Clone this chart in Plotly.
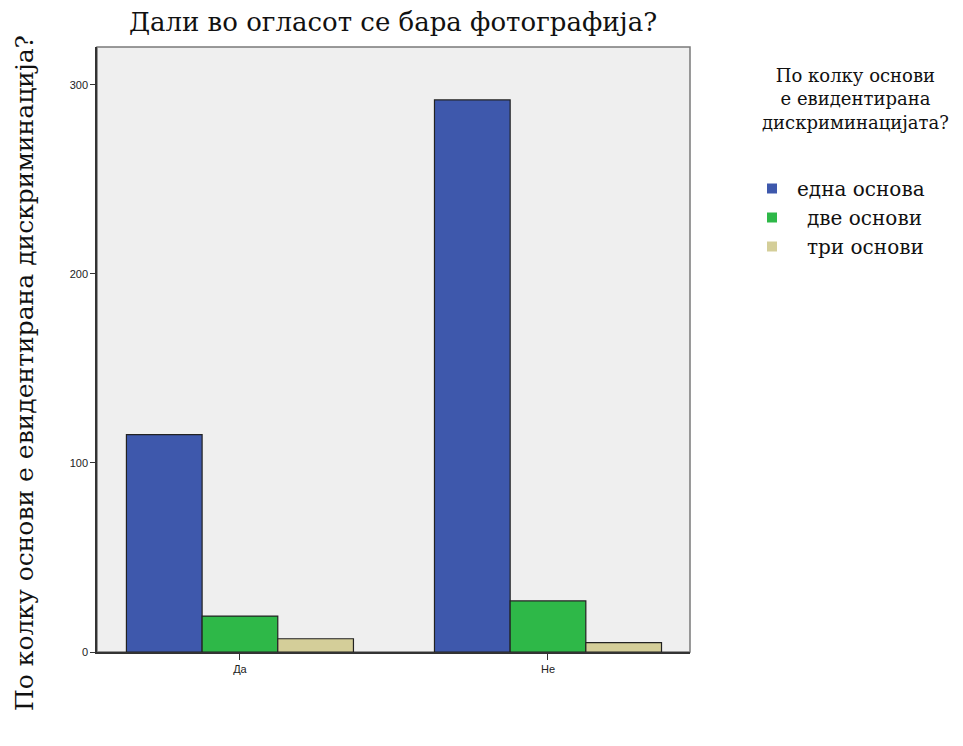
import plotly.graph_objects as go

categories = ['Да', 'Не']
series_names = ['една основа', 'две основи', 'три основи']
values_edna = [115, 292]
values_dve = [19, 27]
values_tri = [7, 5]
colors = ['#3E58AC', '#2EB848', '#D4CE99']
# the reference legend right-aligns its labels; pad the shorter ones
name_pads = ['\u2005', '\u2005\u2002', '\u2005\u2002']
legend_title = 'По колку основи<br>е евидентирана<br>дискриминацијата?'

serif = 'DejaVu Serif, serif'
sans = 'Liberation Sans, Arial, sans-serif'

fig = go.Figure()

for name, pad, vals, col in zip(series_names, name_pads,
                                [values_edna, values_dve, values_tri], colors):
    fig.add_trace(go.Bar(
        x=categories, y=vals, name=name,
        marker=dict(color=col, line=dict(color='#222222', width=1.2)),
        showlegend=False, legendgroup=name
    ))
    # legend swatch (square, no outline)
    fig.add_trace(go.Scatter(
        x=[None], y=[None], mode='markers', name=pad + name,
        marker=dict(symbol='square', size=10, color=col),
        legendgroup=name, showlegend=True
    ))

# light frame on top/right like the original
fig.add_shape(type='rect', xref='paper', yref='paper', x0=0, y0=0, x1=1, y1=1,
              line=dict(color='#7a7a7a', width=1.5), layer='below')

# page body has an 8px margin, so the figure is shrunk by 8px
fig.update_layout(
    width=955, height=738,
    margin=dict(l=89, r=273, t=39, b=94),
    paper_bgcolor='white',
    plot_bgcolor='#EFEFEF',
    barmode='group',
    bargap=0.263,
    bargroupgap=0,
    title=dict(
        text='Дали во огласот се бара фотографија?',
        x=(393 - 8) / 955, xanchor='center',
        y=1 - (22 - 8) / 738, yanchor='middle',
        font=dict(family=serif, size=26, color='#111111')
    ),
    xaxis=dict(
        range=[-0.464, 1.461],
        showgrid=False, zeroline=False,
        showline=True, linecolor='#333333', linewidth=1.5,
        ticks='outside', ticklen=6, tickcolor='#333333',
        tickfont=dict(family=sans, size=11, color='#222222')
    ),
    yaxis=dict(
        range=[0, 320],
        tickvals=[0, 100, 200, 300],
        showgrid=False, zeroline=False,
        showline=True, linecolor='#333333', linewidth=1.5,
        ticks='outside', ticklen=5, tickcolor='#333333',
        tickfont=dict(family=sans, size=11, color='#222222')
    ),
    legend=dict(
        x=(752 - 97) / 593, xanchor='left',
        y=(652 - 169) / 605, yanchor='top',
        font=dict(family=serif, size=20, color='#111111'),
        tracegroupgap=0,
        bgcolor='rgba(0,0,0,0)'
    ),
    annotations=[
        dict(
            text='По колку основи е евидентирана дискриминација?',
            xref='paper', yref='paper',
            x=(25 - 97) / 593, xanchor='center',
            y=(652 - 373) / 605, yanchor='middle',
            textangle=-90, showarrow=False,
            font=dict(family=serif, size=25, color='#111111')
        ),
        dict(
            text=legend_title, xref='paper', yref='paper',
            x=(855 - 97) / 593, xanchor='center',
            y=(652 - 99) / 605, yanchor='middle',
            align='center', showarrow=False,
            font=dict(family=serif, size=18, color='#111111')
        ),
    ]
)

fig.write_html('out.html')
